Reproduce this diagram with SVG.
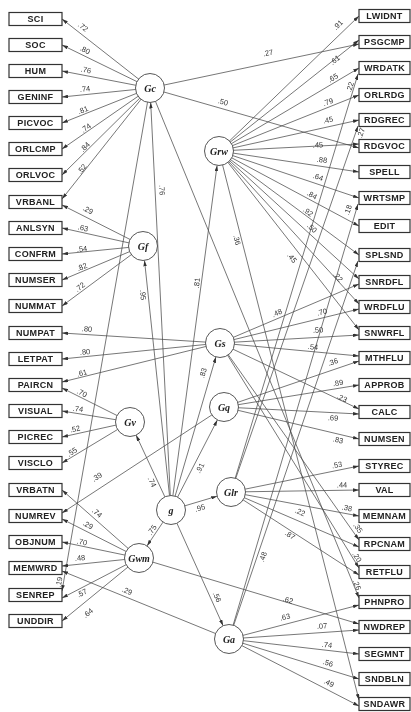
<svg xmlns="http://www.w3.org/2000/svg" width="411" height="712" viewBox="0 0 411 712">
<style>
.c{stroke:#4a4a4a;stroke-width:0.75;fill:none;marker-end:url(#ah)}
.b rect{fill:#fff;stroke:#333;stroke-width:1.2}
.b text{font-family:"Liberation Sans",Arial,sans-serif;font-weight:bold;font-size:9px;fill:#222;text-anchor:middle;letter-spacing:0.3px}
.f circle{fill:#fff;stroke:#444;stroke-width:0.9}
.f text{font-family:"Liberation Serif","Times New Roman",serif;font-style:italic;font-weight:bold;font-size:10px;fill:#222;text-anchor:middle}
.l{font-family:"Liberation Sans",Arial,sans-serif;font-size:7.5px;fill:#333;text-anchor:middle;dominant-baseline:central}
.lbls{opacity:0.99}
</style>
<defs>
<marker id="ah" viewBox="0 0 10 6" refX="10" refY="3" markerWidth="6" markerHeight="3.6" markerUnits="userSpaceOnUse" orient="auto"><path d="M0,0 L10,3 L0,6 z" fill="#333"/></marker>
</defs>
<rect width="411" height="712" fill="#fff"/>
<g id="connectors">
<path class="c" d="M150 88L62 19"/><path class="c" d="M150 88L62 45"/><path class="c" d="M150 88L62 71"/><path class="c" d="M150 88L62 97"/><path class="c" d="M150 88L62 123"/><path class="c" d="M150 88L62 149"/><path class="c" d="M150 88L62 175"/><path class="c" d="M150 88L62 199"/><path class="c" d="M150 88L62 591"/><path class="c" d="M150 88L359 44"/><path class="c" d="M150 88L359 148"/><path class="c" d="M150 88L359 598"/>
<path class="c" d="M143 246L62 205"/><path class="c" d="M143 246L62 228"/><path class="c" d="M143 246L62 254"/><path class="c" d="M143 246L62 280"/><path class="c" d="M143 246L62 306"/>
<path class="c" d="M220 343L62 333"/><path class="c" d="M220 343L62 359"/><path class="c" d="M220 343L62 382"/><path class="c" d="M220 343L359 284"/><path class="c" d="M220 343L359 309"/><path class="c" d="M220 343L359 335"/><path class="c" d="M220 343L359 356"/><path class="c" d="M220 343L359 409"/><path class="c" d="M220 343L359 540"/><path class="c" d="M220 343L359 568"/>
<path class="c" d="M130 422L62 388"/><path class="c" d="M130 422L62 411"/><path class="c" d="M130 422L62 437"/><path class="c" d="M130 422L62 463"/>
<path class="c" d="M224 407L62 513"/><path class="c" d="M224 407L359 361"/><path class="c" d="M224 407L359 385"/><path class="c" d="M224 407L359 414"/><path class="c" d="M224 407L359 439"/>
<path class="c" d="M139 558L62 490"/><path class="c" d="M139 558L62 519"/><path class="c" d="M139 558L62 542"/><path class="c" d="M139 558L62 566"/><path class="c" d="M139 558L62 598"/><path class="c" d="M139 558L62 621"/><path class="c" d="M139 558L359 624"/>
<path class="c" d="M231 492L359 466"/><path class="c" d="M231 492L359 490"/><path class="c" d="M231 492L359 516"/><path class="c" d="M231 492L359 547"/><path class="c" d="M231 492L359 575"/><path class="c" d="M231 492L358 74"/><path class="c" d="M231 492L358 126"/>
<path class="c" d="M229 639L62 571"/><path class="c" d="M229 639L359 605"/><path class="c" d="M229 639L359 630"/><path class="c" d="M229 639L359 654"/><path class="c" d="M229 639L359 679"/><path class="c" d="M229 639L359 706"/><path class="c" d="M229 639L358 204"/><path class="c" d="M229 639L358 261"/>
<path class="c" d="M219 151L359 16"/><path class="c" d="M219 151L359 40"/><path class="c" d="M219 151L359 68"/><path class="c" d="M219 151L359 95"/><path class="c" d="M219 151L359 120"/><path class="c" d="M219 151L359 144"/><path class="c" d="M219 151L359 172"/><path class="c" d="M219 151L359 198"/><path class="c" d="M219 151L359 226"/><path class="c" d="M219 151L359 255"/><path class="c" d="M219 151L359 279"/><path class="c" d="M219 151L359 304"/><path class="c" d="M219 151L359 330"/><path class="c" d="M219 151L359 700"/>
<path class="c" d="M170.3 495.5L150.7 102.5"/><path class="c" d="M169.5 495.6L144.5 260.4"/><path class="c" d="M172.9 495.6L217.1 165.4"/><path class="c" d="M175.1 496.1L215.9 356.9"/><path class="c" d="M177.6 497.1L217.4 419.9"/><path class="c" d="M164.9 496.9L136.1 435.1"/><path class="c" d="M184.9 505.8L217.1 496.2"/><path class="c" d="M163 522.1L147 545.9"/><path class="c" d="M176.9 523.2L223.1 625.8"/>
<g class="lbls">
<text class="l" transform="translate(83 27) rotate(38)">.72</text>
<text class="l" transform="translate(85 50) rotate(26)">.80</text>
<text class="l" transform="translate(86 70) rotate(11)">.76</text>
<text class="l" transform="translate(85 89) rotate(-6)">.74</text>
<text class="l" transform="translate(83 110) rotate(-22)">.81</text>
<text class="l" transform="translate(86 128) rotate(-35)">.74</text>
<text class="l" transform="translate(85 147) rotate(-45)">.84</text>
<text class="l" transform="translate(82 169) rotate(-52)">.52</text>
<text class="l" transform="translate(59 582) rotate(-80)">.19</text>
<text class="l" transform="translate(268 53) rotate(-12)">.27</text>
<text class="l" transform="translate(223 102) rotate(15)">.50</text>
<text class="l" transform="translate(357 585) rotate(68)">.26</text>
<text class="l" transform="translate(88 210) rotate(27)">.29</text>
<text class="l" transform="translate(83 228) rotate(12)">.63</text>
<text class="l" transform="translate(82 249) rotate(-6)">.54</text>
<text class="l" transform="translate(82 267) rotate(-23)">.82</text>
<text class="l" transform="translate(80 287) rotate(-37)">.72</text>
<text class="l" transform="translate(87 329) rotate(4)">.80</text>
<text class="l" transform="translate(85 352) rotate(-6)">.80</text>
<text class="l" transform="translate(82 373) rotate(-14)">.61</text>
<text class="l" transform="translate(277 313) rotate(-24)">.48</text>
<text class="l" transform="translate(322 312) rotate(-14)">.70</text>
<text class="l" transform="translate(318 330) rotate(-4)">.50</text>
<text class="l" transform="translate(313 347) rotate(5)">.54</text>
<text class="l" transform="translate(342 398) rotate(25)">.23</text>
<text class="l" transform="translate(358 528) rotate(55)">.35</text>
<text class="l" transform="translate(357 557) rotate(58)">.20</text>
<text class="l" transform="translate(82 393) rotate(26)">.70</text>
<text class="l" transform="translate(78 409) rotate(8)">.74</text>
<text class="l" transform="translate(75 429) rotate(-13)">.52</text>
<text class="l" transform="translate(72 452) rotate(-32)">.55</text>
<text class="l" transform="translate(97 477) rotate(-33)">.39</text>
<text class="l" transform="translate(333 362) rotate(-19)">.36</text>
<text class="l" transform="translate(338 383) rotate(-9)">.89</text>
<text class="l" transform="translate(333 418) rotate(3)">.69</text>
<text class="l" transform="translate(338 440) rotate(13)">.83</text>
<text class="l" transform="translate(97 513) rotate(41)">.74</text>
<text class="l" transform="translate(88 525) rotate(27)">.29</text>
<text class="l" transform="translate(82 542) rotate(11)">.70</text>
<text class="l" transform="translate(80 558) rotate(-6)">.48</text>
<text class="l" transform="translate(82 593) rotate(-27)">.57</text>
<text class="l" transform="translate(88 613) rotate(-40)">.64</text>
<text class="l" transform="translate(288 600) rotate(17)">.62</text>
<text class="l" transform="translate(337 465) rotate(-11)">.53</text>
<text class="l" transform="translate(342 485) rotate(-1)">.44</text>
<text class="l" transform="translate(347 508) rotate(11)">.38</text>
<text class="l" transform="translate(300 512) rotate(23)">.22</text>
<text class="l" transform="translate(290 535) rotate(33)">.87</text>
<text class="l" transform="translate(350 87) rotate(-73)">.22</text>
<text class="l" transform="translate(361 133) rotate(-71)">.27</text>
<text class="l" transform="translate(127 591) rotate(23)">.29</text>
<text class="l" transform="translate(285 617) rotate(-15)">.63</text>
<text class="l" transform="translate(322 626) rotate(-4)">.07</text>
<text class="l" transform="translate(327 645) rotate(7)">.74</text>
<text class="l" transform="translate(328 663) rotate(17)">.56</text>
<text class="l" transform="translate(329 683) rotate(26)">.49</text>
<text class="l" transform="translate(348 210) rotate(-73)">.18</text>
<text class="l" transform="translate(263 557) rotate(-71)">.48</text>
<text class="l" transform="translate(338 25) rotate(-44)">.91</text>
<text class="l" transform="translate(335 60) rotate(-38)">.61</text>
<text class="l" transform="translate(333 78) rotate(-31)">.65</text>
<text class="l" transform="translate(328 102) rotate(-22)">.79</text>
<text class="l" transform="translate(328 120) rotate(-13)">.45</text>
<text class="l" transform="translate(318 145) rotate(-2)">.45</text>
<text class="l" transform="translate(322 160) rotate(8)">.88</text>
<text class="l" transform="translate(318 177) rotate(19)">.64</text>
<text class="l" transform="translate(312 195) rotate(28)">.84</text>
<text class="l" transform="translate(308 212) rotate(37)">.92</text>
<text class="l" transform="translate(312 228) rotate(43)">.50</text>
<text class="l" transform="translate(292 258) rotate(52)">.45</text>
<text class="l" transform="translate(338 277) rotate(48)">.22</text>
<text class="l" transform="translate(237 240) rotate(76)">.36</text>
<text class="l" transform="translate(162 190) rotate(87)">.76</text>
<text class="l" transform="translate(143 295) rotate(84)">.95</text>
<text class="l" transform="translate(197 283) rotate(-82)">.81</text>
<text class="l" transform="translate(203 373) rotate(-74)">.83</text>
<text class="l" transform="translate(200 468) rotate(-63)">.91</text>
<text class="l" transform="translate(152 482) rotate(65)">.74</text>
<text class="l" transform="translate(200 508) rotate(-17)">.95</text>
<text class="l" transform="translate(152 530) rotate(-56)">.75</text>
<text class="l" transform="translate(217 597) rotate(66)">.56</text>
</g>
</g>
<g class="f">
<g id="Gc"><circle cx="150" cy="88" r="14.5"/><text x="150" y="91.5">Gc</text></g>
<g id="Grw"><circle cx="219" cy="151" r="14.5"/><text x="219" y="154.5">Grw</text></g>
<g id="Gf"><circle cx="143" cy="246" r="14.5"/><text x="143" y="249.5">Gf</text></g>
<g id="Gs"><circle cx="220" cy="343" r="14.5"/><text x="220" y="346.5">Gs</text></g>
<g id="Gq"><circle cx="224" cy="407" r="14.5"/><text x="224" y="410.5">Gq</text></g>
<g id="Gv"><circle cx="130" cy="422" r="14.5"/><text x="130" y="425.5">Gv</text></g>
<g id="g"><circle cx="171" cy="510" r="14.5"/><text x="171" y="513.5">g</text></g>
<g id="Glr"><circle cx="231" cy="492" r="14.5"/><text x="231" y="495.5">Glr</text></g>
<g id="Gwm"><circle cx="139" cy="558" r="14.5"/><text x="139" y="561.5">Gwm</text></g>
<g id="Ga"><circle cx="229" cy="639" r="14.5"/><text x="229" y="642.5">Ga</text></g>
</g>
<g class="b">
<g id="SCI"><rect x="9" y="12.5" width="53" height="13"/><text x="35.5" y="22.2">SCI</text></g>
<g id="SOC"><rect x="9" y="38.5" width="53" height="13"/><text x="35.5" y="48.2">SOC</text></g>
<g id="HUM"><rect x="9" y="64.5" width="53" height="13"/><text x="35.5" y="74.2">HUM</text></g>
<g id="GENINF"><rect x="9" y="90.5" width="53" height="13"/><text x="35.5" y="100.2">GENINF</text></g>
<g id="PICVOC"><rect x="9" y="116.5" width="53" height="13"/><text x="35.5" y="126.2">PICVOC</text></g>
<g id="ORLCMP"><rect x="9" y="142.5" width="53" height="13"/><text x="35.5" y="152.2">ORLCMP</text></g>
<g id="ORLVOC"><rect x="9" y="168.5" width="53" height="13"/><text x="35.5" y="178.2">ORLVOC</text></g>
<g id="VRBANL"><rect x="9" y="195.5" width="53" height="13"/><text x="35.5" y="205.2">VRBANL</text></g>
<g id="ANLSYN"><rect x="9" y="221.5" width="53" height="13"/><text x="35.5" y="231.2">ANLSYN</text></g>
<g id="CONFRM"><rect x="9" y="247.5" width="53" height="13"/><text x="35.5" y="257.2">CONFRM</text></g>
<g id="NUMSER"><rect x="9" y="273.5" width="53" height="13"/><text x="35.5" y="283.2">NUMSER</text></g>
<g id="NUMMAT"><rect x="9" y="299.5" width="53" height="13"/><text x="35.5" y="309.2">NUMMAT</text></g>
<g id="NUMPAT"><rect x="9" y="326.5" width="53" height="13"/><text x="35.5" y="336.2">NUMPAT</text></g>
<g id="LETPAT"><rect x="9" y="352.5" width="53" height="13"/><text x="35.5" y="362.2">LETPAT</text></g>
<g id="PAIRCN"><rect x="9" y="378.5" width="53" height="13"/><text x="35.5" y="388.2">PAIRCN</text></g>
<g id="VISUAL"><rect x="9" y="404.5" width="53" height="13"/><text x="35.5" y="414.2">VISUAL</text></g>
<g id="PICREC"><rect x="9" y="430.5" width="53" height="13"/><text x="35.5" y="440.2">PICREC</text></g>
<g id="VISCLO"><rect x="9" y="456.5" width="53" height="13"/><text x="35.5" y="466.2">VISCLO</text></g>
<g id="VRBATN"><rect x="9" y="483.5" width="53" height="13"/><text x="35.5" y="493.2">VRBATN</text></g>
<g id="NUMREV"><rect x="9" y="509.5" width="53" height="13"/><text x="35.5" y="519.2">NUMREV</text></g>
<g id="OBJNUM"><rect x="9" y="535.5" width="53" height="13"/><text x="35.5" y="545.2">OBJNUM</text></g>
<g id="MEMWRD"><rect x="9" y="561.5" width="53" height="13"/><text x="35.5" y="571.2">MEMWRD</text></g>
<g id="SENREP"><rect x="9" y="588.5" width="53" height="13"/><text x="35.5" y="598.2">SENREP</text></g>
<g id="UNDDIR"><rect x="9" y="614.5" width="53" height="13"/><text x="35.5" y="624.2">UNDDIR</text></g>
<g id="LWIDNT"><rect x="359" y="9.5" width="51" height="13"/><text x="384.5" y="19.2">LWIDNT</text></g>
<g id="PSGCMP"><rect x="359" y="35.5" width="51" height="13"/><text x="384.5" y="45.2">PSGCMP</text></g>
<g id="WRDATK"><rect x="359" y="61.5" width="51" height="13"/><text x="384.5" y="71.2">WRDATK</text></g>
<g id="ORLRDG"><rect x="359" y="88.5" width="51" height="13"/><text x="384.5" y="98.2">ORLRDG</text></g>
<g id="RDGREC"><rect x="359" y="113.5" width="51" height="13"/><text x="384.5" y="123.2">RDGREC</text></g>
<g id="RDGVOC"><rect x="359" y="139.5" width="51" height="13"/><text x="384.5" y="149.2">RDGVOC</text></g>
<g id="SPELL"><rect x="359" y="165.5" width="51" height="13"/><text x="384.5" y="175.2">SPELL</text></g>
<g id="WRTSMP"><rect x="359" y="191.5" width="51" height="13"/><text x="384.5" y="201.2">WRTSMP</text></g>
<g id="EDIT"><rect x="359" y="219.5" width="51" height="13"/><text x="384.5" y="229.2">EDIT</text></g>
<g id="SPLSND"><rect x="359" y="248.5" width="51" height="13"/><text x="384.5" y="258.2">SPLSND</text></g>
<g id="SNRDFL"><rect x="359" y="275.5" width="51" height="13"/><text x="384.5" y="285.2">SNRDFL</text></g>
<g id="WRDFLU"><rect x="359" y="300.5" width="51" height="13"/><text x="384.5" y="310.2">WRDFLU</text></g>
<g id="SNWRFL"><rect x="359" y="326.5" width="51" height="13"/><text x="384.5" y="336.2">SNWRFL</text></g>
<g id="MTHFLU"><rect x="359" y="351.5" width="51" height="13"/><text x="384.5" y="361.2">MTHFLU</text></g>
<g id="APPROB"><rect x="359" y="378.5" width="51" height="13"/><text x="384.5" y="388.2">APPROB</text></g>
<g id="CALC"><rect x="359" y="405.5" width="51" height="13"/><text x="384.5" y="415.2">CALC</text></g>
<g id="NUMSEN"><rect x="359" y="432.5" width="51" height="13"/><text x="384.5" y="442.2">NUMSEN</text></g>
<g id="STYREC"><rect x="359" y="459.5" width="51" height="13"/><text x="384.5" y="469.2">STYREC</text></g>
<g id="VAL"><rect x="359" y="483.5" width="51" height="13"/><text x="384.5" y="493.2">VAL</text></g>
<g id="MEMNAM"><rect x="359" y="509.5" width="51" height="13"/><text x="384.5" y="519.2">MEMNAM</text></g>
<g id="RPCNAM"><rect x="359" y="537.5" width="51" height="13"/><text x="384.5" y="547.2">RPCNAM</text></g>
<g id="RETFLU"><rect x="359" y="565.5" width="51" height="13"/><text x="384.5" y="575.2">RETFLU</text></g>
<g id="PHNPRO"><rect x="359" y="595.5" width="51" height="13"/><text x="384.5" y="605.2">PHNPRO</text></g>
<g id="NWDREP"><rect x="359" y="620.5" width="51" height="13"/><text x="384.5" y="630.2">NWDREP</text></g>
<g id="SEGMNT"><rect x="359" y="647.5" width="51" height="13"/><text x="384.5" y="657.2">SEGMNT</text></g>
<g id="SNDBLN"><rect x="359" y="672.5" width="51" height="13"/><text x="384.5" y="682.2">SNDBLN</text></g>
<g id="SNDAWR"><rect x="359" y="697.5" width="51" height="13"/><text x="384.5" y="707.2">SNDAWR</text></g>
</g>
</svg>
